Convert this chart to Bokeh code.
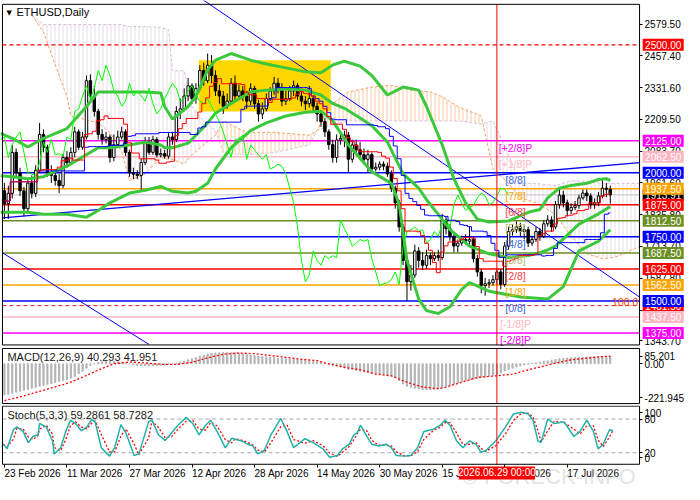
import numpy as np
from bokeh.plotting import figure
from bokeh.models import Range1d, FixedTicker, NumeralTickFormatter, LinearAxis
from bokeh.layouts import column
from bokeh.embed import file_html
from bokeh.resources import INLINE
from bokeh.core.properties import value

FONT = "Liberation Sans"

# ---------------- data ----------------
first_open = 1930
closes = [1880, 1920, 2080, 2000, 1930, 1860, 1960, 1920, 2010, 2150,
          2100, 2000, 1990, 1970, 1950, 2060, 2040, 2080, 2160, 2100,
          2140, 2360, 2300, 2240, 2150, 2130, 2140, 2060, 2110, 2140,
          2160, 2080, 2000, 1995, 1990, 2040, 2120, 2080, 2130, 2070,
          2075, 2065, 2140, 2130, 2240, 2250, 2300, 2340, 2290, 2330,
          2400, 2360, 2420, 2380, 2320, 2300, 2260, 2280, 2350, 2300,
          2320, 2300, 2280, 2330, 2270, 2230, 2250, 2290, 2320, 2350,
          2330, 2280, 2290, 2320, 2340, 2300, 2280, 2270, 2290, 2260,
          2230, 2200, 2160, 2110, 2060, 2128, 2135, 2147, 2053, 2109,
          2090, 2071, 2053, 2071, 2015, 2022, 2034, 2026, 1996, 1940,
          1883, 1789, 1658, 1575, 1601, 1695, 1658, 1639, 1677, 1665,
          1677, 1669, 1816, 1782, 1752, 1714, 1726, 1740, 1733, 1740,
          1665, 1613, 1560, 1567, 1571, 1583, 1613, 1564, 1714, 1771,
          1778, 1789, 1771, 1778, 1726, 1740, 1771, 1752, 1801, 1816,
          1789, 1876, 1913, 1883, 1853, 1865, 1872, 1902, 1921, 1910,
          1876, 1883, 1910, 1940, 1936, 1913.91]
highs = [1960, 1950, 2110, 2095, 2020, 1945, 1980, 1990, 2030, 2195,
         2170, 2110, 2030, 2010, 1995, 2075, 2085, 2100, 2180, 2170,
         2160, 2380, 2385, 2340, 2250, 2170, 2160, 2150, 2150, 2165,
         2180, 2170, 2090, 2020, 2010, 2055, 2140, 2140, 2145, 2140,
         2095, 2090, 2155, 2160, 2260, 2290, 2330, 2370, 2350, 2350,
         2420, 2430, 2466, 2460, 2400, 2345, 2320, 2310, 2370, 2380,
         2345, 2340, 2320, 2350, 2340, 2285, 2275, 2310, 2335, 2375,
         2370, 2350, 2320, 2340, 2360, 2350, 2330, 2300, 2340, 2300,
         2275, 2245, 2215, 2170, 2130, 2150, 2160, 2165, 2160, 2130,
         2130, 2120, 2095, 2090, 2080, 2040, 2045, 2045, 2040, 2010,
         1950, 1895, 1800, 1670, 1640, 1720, 1710, 1690, 1700, 1690,
         1690, 1700, 1840, 1830, 1800, 1760, 1740, 1755, 1760, 1790,
         1750, 1680, 1625, 1590, 1585, 1600, 1625, 1625, 1730, 1790,
         1800, 1810, 1805, 1795, 1790, 1755, 1790, 1785, 1815, 1835,
         1830, 1890, 1935, 1930, 1895, 1880, 1890, 1915, 1935, 1935,
         1920, 1900, 1925, 1977, 1960, 1950]
lows = [1820, 1820, 1900, 1980, 1910, 1830, 1850, 1900, 1905, 2000,
        2080, 1985, 1960, 1950, 1920, 1940, 2020, 2030, 2060, 2090,
        2090, 2130, 2280, 2220, 2130, 2110, 2115, 2040, 2045, 2100,
        2130, 2065, 1985, 1975, 1975, 1930, 2030, 2070, 2070, 2060,
        2060, 2055, 2055, 2110, 2120, 2210, 2240, 2280, 2270, 2270,
        2320, 2340, 2350, 2350, 2300, 2270, 2230, 2250, 2270, 2280,
        2290, 2280, 2250, 2265, 2250, 2200, 2210, 2240, 2280, 2305,
        2310, 2260, 2265, 2280, 2300, 2285, 2260, 2245, 2255, 2240,
        2200, 2180, 2140, 2090, 2040, 2040, 2110, 2100, 2000, 2040,
        2075, 2050, 2035, 2000, 2000, 2005, 2010, 2010, 1985, 1925,
        1860, 1770, 1640, 1500, 1540, 1590, 1630, 1620, 1625, 1640,
        1655, 1655, 1660, 1760, 1735, 1690, 1690, 1715, 1720, 1720,
        1650, 1595, 1530, 1520, 1550, 1560, 1565, 1545, 1555, 1700,
        1755, 1765, 1750, 1740, 1710, 1715, 1730, 1735, 1745, 1790,
        1770, 1780, 1860, 1865, 1830, 1840, 1855, 1860, 1895, 1890,
        1860, 1860, 1870, 1900, 1905, 1880]

date_ticks = [0, 16, 32, 48, 64, 80, 96, 112, 128, 144]
date_labels = ["23 Feb 2026", "11 Mar 2026", "27 Mar 2026", "12 Apr 2026", "28 Apr 2026",
               "14 May 2026", "30 May 2026", "15 Jun 2026", "1 Jul 2026", "17 Jul 2026"]
price_ticks = [2579.5, 2457.4, 2331.6, 2209.5, 2083.7, 1961.6, 1835.8, 1713.7, 1587.8, 1461.9, 1343.7]

# Bollinger bands (read)
ub_days = [-1, 2, 6, 10, 16, 21, 24, 27, 32, 36, 40, 41, 43, 47, 49, 52, 54, 58, 63, 67,
           72, 77, 81, 84, 87, 91, 94, 98, 102, 106, 108, 110, 112, 115, 118, 121, 124, 129, 134, 137,
           139, 142, 145, 149, 152, 154, 155]
ub_vals = [2154, 2135, 2101, 2135, 2173, 2259, 2316, 2316, 2316, 2316, 2312, 2259, 2210, 2259, 2297, 2402, 2440, 2466, 2440, 2425,
           2410, 2395, 2391, 2421, 2436, 2417, 2380, 2304, 2335, 2323, 2259, 2184, 2110, 1977, 1883, 1819, 1808, 1812, 1846, 1857,
           1902, 1940, 1951, 1959, 1974, 1977, 1970]
mb_days = [-1, 2, 6, 10, 16, 21, 24, 27, 32, 36, 40, 41, 43, 47, 49, 52, 54, 58, 63, 67,
           72, 77, 81, 84, 87, 91, 94, 98, 102, 106, 108, 111, 114, 117, 119, 124, 129, 134, 137, 139,
           141, 147, 152, 155]
mb_vals = [1989, 1985, 1977, 1985, 2026, 2071, 2098, 2098, 2109, 2120, 2109, 2098, 2098, 2116, 2147, 2195, 2233, 2271, 2316, 2323,
           2327, 2323, 2304, 2271, 2252, 2214, 2184, 2120, 1996, 1940, 1895, 1838, 1778, 1740, 1714, 1684, 1669, 1677, 1688, 1699,
           1714, 1800, 1840, 1868]
lb_days = [-1, 2, 6, 10, 16, 21, 24, 27, 32, 36, 40, 41, 43, 47, 49, 52, 54, 58, 63, 67,
           72, 77, 81, 84, 88, 94, 99, 101, 103, 106, 108, 111, 114, 117, 119, 124, 132, 139, 143, 147,
           152, 155]
lb_vals = [1846, 1846, 1846, 1838, 1838, 1827, 1853, 1883, 1921, 1932, 1947, 1940, 1928, 1921, 1928, 1959, 2015, 2098, 2165, 2195,
           2222, 2237, 2241, 2203, 2109, 2004, 1959, 1876, 1658, 1507, 1462, 1451, 1477, 1545, 1571, 1538, 1515, 1507, 1556, 1695,
           1733, 1778]

# Ichimoku cloud (read)
cloud_days = [7, 10, 13, 16, 17, 24, 27, 30, 32, 36, 40, 42, 43, 46, 48, 51, 54, 56, 62, 69,
              78, 80, 83, 88, 94, 99, 104, 109, 112, 116, 122, 125, 129, 132, 136, 141, 145, 149, 153, 156,
              159, 162.5]
senkou_a = [2617, 2549, 2421, 2297, 2222, 2195, 2158, 2083, 1970, 1996, 2060, 2053, 2053, 2034, 2071, 2109, 2147, 2203, 2158, 2158,
            2147, 2165, 2259, 2316, 2335, 2342, 2323, 2316, 2297, 2259, 2222, 2015, 1959, 1902, 1883, 1838, 1752, 1684, 1665, 1669,
            1688, 1712]
senkou_b = [2617, 2579, 2579, 2579, 2579, 2579, 2579, 2579, 2571, 2571, 2568, 2560, 2399, 2399, 2259, 2203, 2165, 2079, 2071, 2079,
            2109, 2165, 2184, 2203, 2203, 2203, 2203, 2203, 2203, 2203, 2191, 2203, 2071, 1958, 1958, 1950, 1970, 1966, 1959, 1959,
            1959, 1959]

# Murrey math levels
murrey_levels = [2125, 2062.5, 2000, 1937.5, 1875, 1812.5, 1750, 1687.5, 1625, 1562.5, 1500, 1437.5, 1375]
murrey_names = ["[+2/8]P", "[+1/8]P", "[8/8]", "[7/8]", "[6/8]", "[5/8]", "[4/8]", "[3/8]", "[2/8]", "[1/8]",
                "[0/8]", "[-1/8]P", "[-2/8]P"]
murrey_colors = ["#FF00FF", "#FFB6C1", "#0000FF", "#FFA500", "#FF0000", "#6B8E23", "#0000FF", "#6B8E23", "#FF0000",
                 "#FFA500", "#0000FF", "#FFB6C1", "#FF00FF"]
murrey_text_colors = ["#FF00FF", "#FFB6C1", "#4169E1", "#FFA500", "#FF4040", "#BDB76B", "#4169E1", "#BDB76B", "#FF4040",
                      "#FFA500", "#4169E1", "#FFB6C1", "#FF00FF"]

resistance = 2500
fib_level = 1481.5
bid = 1913.91
cursor_day = 126
cursor_text = "2026.06.29 00:00"
box_days = [49.75, 83.5]
box_prices = [2240, 2440]
trend_a_days, trend_a_prices = [45, 162.5], [2736, 1515]
trend_b_days, trend_b_prices = [-0.5, 162.5], [1824, 2040]
trend_c_days, trend_c_prices = [-0.5, 37], [1688, 1330]

# MACD (read)
macd = [-174, -170, -165, -158, -153, -148, -143, -137, -132, -125,
        -120, -115, -110, -104, -98, -93, -88, -80, -70, -55,
        -42, -25, -10, 0, 8, 12, 15, 14, 13, 12,
        10, 6, 0, -6, -10, -12, -11, -12, -10, -10,
        -9, -8, -5, -2, 3, 8, 15, 22, 28, 35,
        42, 48, 54, 58, 60, 62, 63, 63, 62, 62,
        60, 56, 52, 48, 45, 42, 40, 38, 36, 34,
        32, 30, 28, 27, 25, 24, 22, 20, 18, 15,
        11, 6, 1, -4, -8, -12, -18, -24, -30, -33,
        -38, -42, -46, -48, -52, -55, -57, -60, -64, -70,
        -80, -95, -112, -125, -132, -137, -140, -143, -145, -145,
        -143, -140, -133, -127, -122, -115, -108, -100, -95, -90,
        -86, -82, -78, -74, -70, -65, -58, -52, -40, -32,
        -25, -18, -12, -7, -3, 2, 5, 9, 13, 16,
        20, 24, 28, 30, 32, 33, 35, 36, 37, 38,
        39, 40, 41, 42, 42, 40.293]
sig_days = [0, 4, 8, 12, 16, 20, 24, 28, 32, 36, 40, 44, 48, 52, 56, 60, 64, 68, 72, 76,
            80, 82, 84, 87, 91, 95, 99, 103, 107, 111, 113, 117, 121, 126, 130, 133, 137, 141, 145, 149,
            153, 155]
sig_vals = [-205, -185, -160, -135, -110, -75, -35, 0, 10, 4, -3, -4, 8, 33, 53, 60, 56, 46, 36, 25,
            18, 5, -5, -20, -33, -58, -67, -103, -130, -139, -130, -103, -76, -67, -58, -40, -18, 4, 22, 31,
            40, 41.951]

# Stochastic (read)
stoch_days = [-0.3, 0.7, 2.3, 3.2, 4.8, 6.1, 7.3, 8.6, 9, 10.7, 12.3, 12.75, 14.4, 15.7, 16.9, 18.2, 19.7, 21.1, 22.3, 23.2,
              24.8, 26.9, 28.2, 29.8, 31.1, 33.2, 34.4, 36.9, 37.75, 39.4, 41.1, 42.75, 44.4, 46.5, 48.2, 49.8, 51.5, 52.75, 54.4, 56.5,
              58.2, 59, 60.7, 62.3, 63.6, 64.8, 66.5, 68.2, 70.7, 72.3, 74, 76.9, 79, 81.5, 83.2, 85.25, 86.5, 88.2, 89.4, 90.25,
              91.1, 92.75, 94, 95.7, 97.75, 99, 100.25, 102.3, 104, 105.7, 107.3, 109.8, 111.5, 112.75, 114, 115.7, 117.3, 119, 120.7, 121.9,
              123.2, 125.7, 128.2, 130.25, 132.3, 134, 135.25, 136.5, 137.3, 139, 140.7, 143.2, 145.7, 147.3, 149, 150.7, 151.9, 153.2, 154.8, 155.7]
stoch_main = [35, 27, 61, 66, 58, 38, 49, 52, 72, 66, 41, 18, 29, 58, 78, 72, 59, 66, 79, 75,
              29, 14, 29, 70, 55, 15, 18, 75, 78, 52, 42, 55, 69, 83, 72, 52, 69, 78, 58, 29,
              46, 44, 41, 35, 32, 18, 24, 52, 81, 58, 29, 45, 38, 27, 12, 15, 27, 35, 52, 55,
              69, 49, 35, 32, 35, 29, 15, 14, 15, 29, 58, 62, 69, 78, 69, 41, 29, 41, 35, 21,
              24, 41, 66, 89, 92, 89, 78, 41, 38, 80, 72, 75, 49, 58, 78, 58, 27, 35, 61, 59.29]

# ---------------- derived ----------------
days = np.arange(len(closes))
c = np.array(closes, dtype=float)
h = np.array(highs, dtype=float)
l = np.array(lows, dtype=float)
o = np.concatenate([[first_open], c[:-1]])
up = c >= o
dn = ~up

def midline(period):
    out = []
    for i in range(len(c)):
        s = max(0, i - period + 1)
        out.append((h[s:i + 1].max() + l[s:i + 1].min()) / 2)
    return out

tenkan = midline(9)
kijun = midline(26)
st = np.array(stoch_main)
st_sig = np.concatenate([[st[0]], (st[1:] + st[:-1]) / 2])

# ---------------- layout geometry ----------------
W = 684
X0, X1 = -0.5, 162.5          # plot box (days)
LAB_X, LAB_W = 168.55, 10.5   # right-hand value boxes


def base(hgt, yr):
    p = figure(width=W, height=hgt, x_range=Range1d(-1, 174), y_range=yr, output_backend="svg",
               toolbar_location=None, x_axis_location=None, y_axis_location=None, min_border=0)
    p.grid.visible = False
    p.outline_line_color = None
    p.background_fill_color = "white"
    p.border_fill_color = "white"
    return p


def right_axis(p, ticks, overrides=None, fmt=None):
    ax = LinearAxis(fixed_location=X1, ticker=FixedTicker(ticks=ticks))
    if fmt:
        ax.formatter = NumeralTickFormatter(format=fmt)
    if overrides:
        ax.major_label_overrides = overrides
    ax.major_label_text_font = FONT
    ax.major_label_text_font_size = "10px"
    ax.major_label_text_color = "black"
    ax.major_tick_out = 3
    ax.major_tick_in = 0
    ax.minor_tick_out = 0
    ax.minor_tick_in = 0
    ax.major_label_standoff = 2
    ax.axis_line_color = None
    ax.level = "underlay"
    p.add_layout(ax, "right")
    return ax


def frame_box(p, bottom, top):
    p.quad(left=[X0], right=[X1], bottom=[bottom], top=[top], fill_color=None, line_color="black", line_width=1)


# ---------------- main panel ----------------
P1_BOT, P1_TOP = 1328, 2658
p1 = base(347, Range1d(1318, 2673))
right_axis(p1, price_ticks, fmt="0.00")

p1.quad(left=[box_days[0]], right=[box_days[1]], bottom=[box_prices[0]], top=[box_prices[1]],
        fill_color="#FFD700", line_color=None)

xs, ys, hc = [], [], []
for i in range(len(cloud_days) - 1):
    x0, x1 = cloud_days[i], cloud_days[i + 1]
    xs.append([x0, x1, x1, x0])
    ys.append([senkou_a[i], senkou_a[i + 1], senkou_b[i + 1], senkou_b[i]])
    hc.append("#D8BFD8" if senkou_b[i] + senkou_b[i + 1] > senkou_a[i] + senkou_a[i + 1] else "#F4A460")
p1.patches(xs, ys, fill_alpha=0, line_color=None, hatch_pattern="|", hatch_color=hc,
           hatch_scale=4, hatch_weight=1, hatch_alpha=0.6)
p1.line(cloud_days, senkou_a, color="#F4A460", line_dash="3 2", line_width=1)
p1.line(cloud_days, senkou_b, color="#D8BFD8", line_dash="3 2", line_width=1)

p1.segment(x0=X0, x1=X1, y0=murrey_levels, y1=murrey_levels, line_color=murrey_colors, line_width=1.5)
p1.segment(x0=X0, x1=X1, y0=[bid], y1=[bid], line_color="#C0C0C0", line_width=1)
p1.segment(x0=X0, x1=X1, y0=[resistance], y1=[resistance], line_color="#FF0000", line_width=1.2, line_dash="4 3")
p1.segment(x0=X0, x1=X1, y0=[fib_level], y1=[fib_level], line_color="#D02020", line_width=1, line_dash="4 3")

p1.line(trend_a_days, trend_a_prices, color="#0000FF", line_width=1)
p1.line(trend_b_days, trend_b_prices, color="#0000FF", line_width=1.3)
p1.line(trend_c_days, trend_c_prices, color="#0000FF", line_width=1)

p1.segment(days, h, days, l, color="black", line_width=1)
p1.vbar(days[up], width=0.62, top=c[up], bottom=o[up], fill_color="white", line_color="black", line_width=1)
p1.vbar(days[dn], width=0.62, top=o[dn], bottom=c[dn], fill_color="black", line_color="black", line_width=1)

for dd, vv in ((ub_days, ub_vals), (mb_days, mb_vals), (lb_days, lb_vals)):
    p1.line(dd, vv, color="#3CC83C", line_width=3)
p1.line(days[25:] - 26, c[25:], color="#00FF00", line_width=1)
p1.step(days, kijun, color="#0000FF", line_width=1, mode="center")
p1.step(days, tenkan, color="#FF0000", line_width=1, mode="center")

p1.segment(x0=[cursor_day], x1=[cursor_day], y0=[P1_BOT], y1=[P1_TOP], line_color="#FF0000", line_width=1)

p1.text(x=[130.75] * len(murrey_levels), y=murrey_levels, text=murrey_names, text_color=murrey_text_colors,
        text_align="center", text_baseline="top", y_offset=1, text_font=value(FONT), text_font_size="10.5px")
p1.text(x=[162.2], y=[fib_level], text=["100.0"], text_color="#FF4500", text_align="right",
        text_baseline="bottom", text_font=value(FONT), text_font_size="10.5px")
frame_box(p1, P1_BOT, P1_TOP)

p1.text(x=[X0], y=[P1_TOP], x_offset=4, y_offset=5, text=["\u25BC"], text_font=value("DejaVu Sans"),
        text_font_size="7px", text_color="black", text_baseline="top")
p1.text(x=[X0], y=[P1_TOP], x_offset=14, y_offset=2, text=["ETHUSD,Daily"], text_font=value(FONT),
        text_font_size="11px", text_color="black", text_baseline="top")

lab_vals = [bid, resistance, 2125, 2062.5, 2000, 1937.5, 1875, 1812.5, 1750, 1687.5, 1625, 1562.5,
            fib_level, 1500, 1437.5, 1375]
lab_cols = ["#000000", "#FF0000", "#FF00FF", "#FFB6C1", "#0000FF", "#FFA500", "#FF0000", "#6B8E23", "#0000FF",
            "#6B8E23", "#FF0000", "#FFA500", "#FF0000", "#0000FF", "#FFB6C1", "#FF00FF"]
for v, col in zip(lab_vals, lab_cols):
    p1.rect(x=[LAB_X], y=[v], width=LAB_W, height=12, height_units="screen", fill_color=col, line_color=None)
    p1.text(x=[LAB_X], y=[v], text=[f"{v:.2f}"], text_color="white", text_align="center", text_baseline="middle",
            text_font=value(FONT), text_font_size="10px")

# ---------------- MACD panel ----------------
p2 = base(58, Range1d(-232.7, 90.6))
right_axis(p2, [42, 0, -190], overrides={42: "85.201", 0: "0.00", -190: "-221.945"})
p2.vbar(x=days, top=macd, bottom=0, width=0.3, fill_color="#B4B4B4", line_color="#B4B4B4", line_width=1)
p2.line(sig_days, sig_vals, color="#FF0000", line_dash="2 2", line_width=1.3)
p2.segment(x0=[cursor_day], x1=[cursor_day], y0=[-221.945], y1=[85.201], line_color="#FF0000", line_width=1)
frame_box(p2, -221.945, 85.201)
p2.text(x=[X0], y=[85.201], x_offset=5, y_offset=3, text=["MACD(12,26,9) 40.293 41.951"],
        text_font=value(FONT), text_font_size="11px", text_color="#202020", text_baseline="top")

# ---------------- Stochastic panel ----------------
p3 = base(79, Range1d(-36.5, 104.1))
right_axis(p3, [91, 80, 20, 11], overrides={91: "100", 80: "80", 20: "20", 11: "0"})
p3.segment(x0=X0, x1=X1, y0=[20, 80], y1=[20, 80], line_color="#A8A8A8", line_dash="4 3", line_width=1)
p3.line(stoch_days, st_sig, color="#FF0000", line_dash="2 2", line_width=1.3)
p3.line(stoch_days, stoch_main, color="#20B2AA", line_width=1.5)
p3.segment(x0=[cursor_day], x1=[cursor_day], y0=[-2], y1=[103], line_color="#FF0000", line_width=1)
frame_box(p3, -0.5, 103)
p3.text(x=[X0], y=[103], x_offset=5, y_offset=3, text=["Stoch(5,3,3) 59.2861 58.7282"],
        text_font=value(FONT), text_font_size="11px", text_color="#202020", text_baseline="top")

# date axis: tick marks from the axis, labels left-aligned at the ticks
xa = LinearAxis(fixed_location=-0.5, ticker=FixedTicker(ticks=date_ticks))
xa.major_label_overrides = {t: "" for t in date_ticks}
xa.major_tick_out = 3
xa.major_tick_in = 0
xa.minor_tick_out = 0
xa.minor_tick_in = 0
xa.axis_line_color = None
xa.major_tick_line_color = "black"
xa.level = "underlay"
p3.add_layout(xa, "below")
p3.text(x=date_ticks, y=[-0.5] * len(date_ticks), text=date_labels, text_align="left", text_baseline="top",
        y_offset=4, x_offset=0, text_font=value(FONT), text_font_size="10px", text_color="black")

p3.text(x=[117], y=[-22], text=["\u00A9 FORECK-INFO"], text_color="#B8B8B8", text_alpha=0.4,
        text_baseline="alphabetic", text_font=value(FONT), text_font_size="22px")
p3.rect(x=[cursor_day], y=[-16], width=19.5, height=13, height_units="screen", fill_color="#FF0000", line_color=None)
p3.text(x=[cursor_day], y=[-16], text=[cursor_text], text_color="white", text_align="center",
        text_baseline="middle", text_font=value(FONT), text_font_size="10px")

layout = column(p1, p2, p3, spacing=0)
open("out.html", "w").write(file_html(layout, INLINE))
